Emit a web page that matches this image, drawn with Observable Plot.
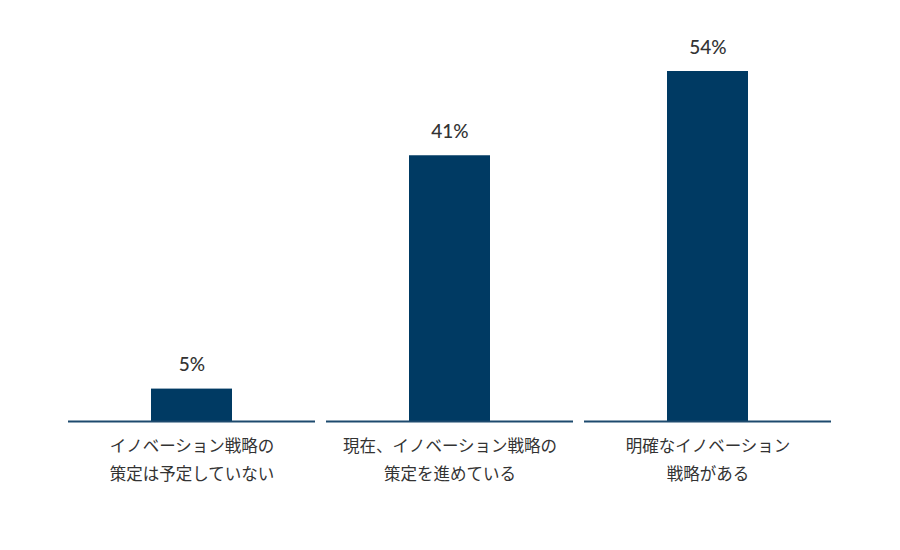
<!DOCTYPE html>
<html>
<head>
<meta charset="utf-8">
<script src="https://cdn.jsdelivr.net/npm/d3@7"></script>
<script src="https://cdn.jsdelivr.net/npm/@observablehq/plot@0.6"></script>
<style>
  html, body { margin: 0; padding: 0; background: #fff; }
  #chart { width: 900px; height: 550px; }
</style>
</head>
<body>
<div id="chart"></div>
<script>
const categories = [
  "イノベーション戦略の\n策定は予定していない",
  "現在、イノベーション戦略の\n策定を進めている",
  "明確なイノベーション\n戦略がある"
];
const values = [5, 41, 54];
const valueLabels = ["5%", "41%", "54%"];

const data = categories.map((c, i) => ({category: c, value: values[i], label: valueLabels[i]}));

const chart = Plot.plot({
  width: 900,
  height: 550,
  marginLeft: 68,
  marginRight: 69,
  marginTop: 71,
  marginBottom: 129,
  style: {fontFamily: "Lato, 'Noto Sans CJK JP', sans-serif", background: "#fff"},
  x: {domain: categories, paddingInner: 0.043, paddingOuter: 0, label: null},
  y: {domain: [0, 54], axis: null},
  marks: [
    Plot.barY(data, {x: "category", y: "value", fill: "#003a63", insetLeft: 83, insetRight: 83}),
    Plot.tickY(data, {x: "category", y: 0, stroke: "#1d4a6e", strokeWidth: 2}),
    Plot.text(data, {x: "category", y: "value", text: "label", dy: -24, fontSize: 19, fill: "#333", fontWeight: 500}),
    Plot.axisX({tickSize: 0, tickPadding: 11, fontSize: 16.5, lineHeight: 1.7, fill: "#333", label: null})
  ]
});
document.getElementById("chart").appendChild(chart);
</script>
</body>
</html>
